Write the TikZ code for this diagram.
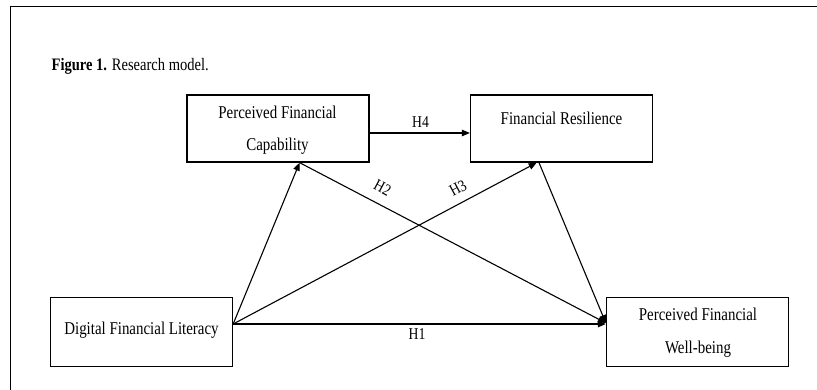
\documentclass[tikz,border=0pt]{standalone}
\usepackage{fontspec}
\setmainfont[FakeStretch=0.83]{Liberation Serif}
\usetikzlibrary{arrows.meta}
\begin{document}
\begin{tikzpicture}[x=1pt,y=-1pt,
  box/.style={draw, line width=1.3pt, minimum width=182pt, inner sep=0pt},
  txt/.style={anchor=base, inner sep=0pt, font=\fontsize{18}{20}\selectfont},
  lbl/.style={inner sep=0pt, font=\fontsize{16.5}{18}\selectfont},
  arr/.style={-{Triangle[length=8pt,width=6.5pt]}, line width=1.1pt}]
\useasboundingbox (0,0) rectangle (817,389);
\clip (0,0) rectangle (817,389);
\draw[line width=1.6pt] (10.5,400) -- (10.5,6.5) -- (830,6.5);
\node[anchor=base west, inner sep=0pt, font=\fontsize{17.5}{18}\selectfont] (cap) at (51.5,70) {\textbf{Figure 1.} Research model.};
% boxes
\node[box, minimum height=67pt] (pfc) at (278,128.5) {};
\node[box, minimum height=67pt] (fr) at (561.5,128.5) {};
\node[box, minimum height=69pt] (dfl) at (141.5,331.7) {};
\node[box, minimum height=69pt] (pfw) at (697.5,331.7) {};
% texts
\node[txt] (pfc1) at (277.5,118.3) {Perceived Financial};
\node[txt] (pfc2) at (277.5,150) {Capability};
\node[txt] (fr1) at (561.5,124) {Financial Resilience};
\node[txt] (dfl1) at (141.5,334) {Digital Financial Literacy};
\node[txt] (pfw1) at (698,320) {Perceived Financial};
\node[txt] (pfw2) at (698,353) {Well-being};
% connectors
\draw[arr] ([yshift=-4.5pt]pfc.east) -- ([yshift=-4.5pt]fr.west);
\draw[arr] ([yshift=7.7pt]dfl.east) -- ([xshift=21.6pt]pfc.south);
\draw[arr] ([yshift=7.7pt]dfl.east) -- ([xshift=-24.8pt]fr.south);
\draw[arr] ([xshift=21.6pt]pfc.south) -- ([yshift=8.7pt]pfw.west);
\draw[arr] ([xshift=-22.5pt]fr.south) -- ([yshift=8.7pt]pfw.west);
\draw[arr, line width=1.4pt] ([yshift=7.7pt]dfl.east) -- ([yshift=7.7pt]pfw.west);
% labels
\node[lbl] (h4) at (420.5,121.7) {H4};
\node[lbl, rotate=-28] (h2) at (382.5,188) {H2};
\node[lbl, rotate=28] (h3) at (458,188) {H3};
\node[lbl] (h1) at (417,334) {H1};
\end{tikzpicture}
\end{document}
